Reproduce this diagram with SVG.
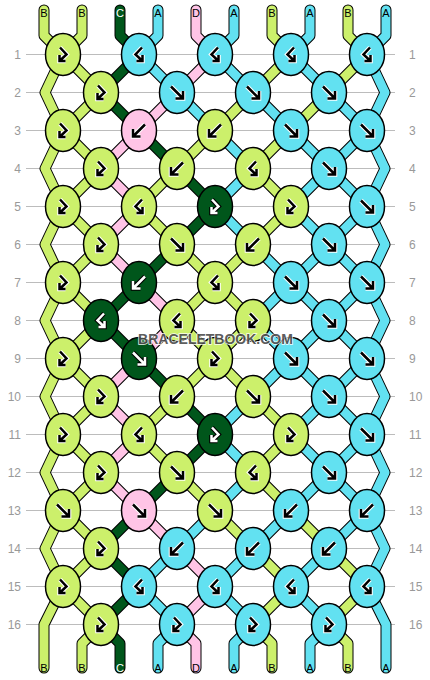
<svg xmlns="http://www.w3.org/2000/svg" xmlns:xlink="http://www.w3.org/1999/xlink" width="430" height="680" viewBox="0 0 430 680">
<style>
.bg{fill:#fff}
.rl{stroke:#bcbcbc;stroke-width:1.2}
.rn{font-family:"Liberation Sans",Arial,sans-serif;font-size:12px;fill:#999}
.ol{fill:none;stroke:#000;stroke-width:11;stroke-linejoin:round;stroke-linecap:round}
.th{fill:none;stroke-width:9;stroke-linejoin:round;stroke-linecap:round}
.tB{stroke:#ccf06b}.tC{stroke:#00561b}.tA{stroke:#62e1f1}.tD{stroke:#ffc4e6}
ellipse{stroke:#000;stroke-width:1.5}
.kB{fill:#ccf06b}.kC{fill:#00561b}.kA{fill:#62e1f1}.kD{fill:#ffc4e6}
.h{fill:none;stroke:#fff;stroke-width:4.6}
.a{fill:none;stroke:#000;stroke-width:2.5}
.h2{fill:none;stroke:#000;stroke-width:4.6}
.a2{fill:none;stroke:#fff;stroke-width:2.5}
.lb{font-family:"Liberation Sans",Arial,sans-serif;font-size:11px;fill:#000;text-anchor:middle}
.lw{fill:#fff}
.wm{font-family:"Liberation Sans",Arial,sans-serif;font-weight:bold;font-size:14px;fill:#4d4d4d;stroke:#fff;stroke-width:1.5;paint-order:stroke;text-anchor:middle;opacity:0.9}
</style>
<defs>
<path id="f" d="M-6,-6L5,5M-1.5,6H6V-1.5"/>
<path id="b" d="M6,-6L-5,5M1.5,6H-6V-1.5"/>
<path id="fb" d="M-3,-7L3.5,0L-3.5,6.5M-3.5,0.5V6.5H2.5"/>
<path id="bf" d="M3,-7L-3.5,0L3.5,6.5M3.5,0.5V6.5H-2.5"/>
</defs>
<rect class="bg" width="430" height="680"/>
<g id="rows">
<g class="rl">
<line x1="26" y1="54.5" x2="395" y2="54.5"/><line x1="26" y1="92.5" x2="395" y2="92.5"/><line x1="26" y1="130.5" x2="395" y2="130.5"/><line x1="26" y1="168.5" x2="395" y2="168.5"/><line x1="26" y1="206.5" x2="395" y2="206.5"/><line x1="26" y1="244.5" x2="395" y2="244.5"/><line x1="26" y1="282.5" x2="395" y2="282.5"/><line x1="26" y1="320.5" x2="395" y2="320.5"/><line x1="26" y1="358.5" x2="395" y2="358.5"/><line x1="26" y1="396.5" x2="395" y2="396.5"/><line x1="26" y1="434.5" x2="395" y2="434.5"/><line x1="26" y1="472.5" x2="395" y2="472.5"/><line x1="26" y1="510.5" x2="395" y2="510.5"/><line x1="26" y1="548.5" x2="395" y2="548.5"/><line x1="26" y1="586.5" x2="395" y2="586.5"/><line x1="26" y1="624.5" x2="395" y2="624.5"/>
</g>
<g class="rn" text-anchor="end">
<text x="21" y="59">1</text><text x="21" y="97">2</text><text x="21" y="135">3</text><text x="21" y="173">4</text><text x="21" y="211">5</text><text x="21" y="249">6</text><text x="21" y="287">7</text><text x="21" y="325">8</text><text x="21" y="363">9</text><text x="21" y="401">10</text><text x="21" y="439">11</text><text x="21" y="477">12</text><text x="21" y="515">13</text><text x="21" y="553">14</text><text x="21" y="591">15</text><text x="21" y="629">16</text>
</g>
<g class="rn" text-anchor="start">
<text x="409" y="59">1</text><text x="409" y="97">2</text><text x="409" y="135">3</text><text x="409" y="173">4</text><text x="409" y="211">5</text><text x="409" y="249">6</text><text x="409" y="287">7</text><text x="409" y="325">8</text><text x="409" y="363">9</text><text x="409" y="401">10</text><text x="409" y="439">11</text><text x="409" y="477">12</text><text x="409" y="515">13</text><text x="409" y="553">14</text><text x="409" y="591">15</text><text x="409" y="629">16</text>
</g>
</g>
<g id="connectors">
<defs>
<polyline id="t0" points="44,10 44,35.5 63,54.5 45,92.5 63,130.5 45,168.5 63,206.5 45,244.5 63,282.5 45,320.5 63,358.5 45,396.5 63,434.5 45,472.5 63,510.5 101,548.5 63,586.5 101,624.5 82,643.5 82,668"/>
<polyline id="t1" points="82,10 82,35.5 63,54.5 101,92.5 63,130.5 101,168.5 63,206.5 101,244.5 63,282.5 101,320.5 63,358.5 101,396.5 63,434.5 101,472.5 63,510.5 45,548.5 63,586.5 44,624.5 44,668"/>
<polyline id="t2" points="120,10 120,35.5 139,54.5 101,92.5 139,130.5 177,168.5 215,206.5 177,244.5 139,282.5 101,320.5 139,358.5 177,396.5 215,434.5 177,472.5 139,510.5 101,548.5 139,586.5 101,624.5 120,643.5 120,668"/>
<polyline id="t3" points="158,10 158,35.5 139,54.5 177,92.5 215,130.5 253,168.5 215,206.5 253,244.5 291,282.5 329,320.5 367,358.5 385,396.5 367,434.5 329,472.5 291,510.5 253,548.5 215,586.5 253,624.5 234,643.5 234,668"/>
<polyline id="t4" points="196,10 196,35.5 215,54.5 177,92.5 139,130.5 101,168.5 139,206.5 101,244.5 139,282.5 177,320.5 139,358.5 101,396.5 139,434.5 101,472.5 139,510.5 177,548.5 215,586.5 177,624.5 196,643.5 196,668"/>
<polyline id="t5" points="234,10 234,35.5 215,54.5 253,92.5 291,130.5 329,168.5 367,206.5 385,244.5 367,282.5 329,320.5 291,358.5 253,396.5 215,434.5 253,472.5 215,510.5 177,548.5 139,586.5 177,624.5 158,643.5 158,668"/>
<polyline id="t6" points="272,10 272,35.5 291,54.5 253,92.5 215,130.5 177,168.5 139,206.5 177,244.5 215,282.5 177,320.5 215,358.5 177,396.5 139,434.5 177,472.5 215,510.5 253,548.5 291,586.5 253,624.5 272,643.5 272,668"/>
<polyline id="t7" points="310,10 310,35.5 291,54.5 329,92.5 367,130.5 385,168.5 367,206.5 329,244.5 291,282.5 253,320.5 291,358.5 329,396.5 367,434.5 385,472.5 367,510.5 329,548.5 291,586.5 329,624.5 310,643.5 310,668"/>
<polyline id="t8" points="348,10 348,35.5 367,54.5 329,92.5 291,130.5 253,168.5 291,206.5 253,244.5 215,282.5 253,320.5 215,358.5 253,396.5 291,434.5 253,472.5 291,510.5 329,548.5 367,586.5 329,624.5 348,643.5 348,668"/>
<polyline id="t9" points="386,10 386,35.5 367,54.5 385,92.5 367,130.5 329,168.5 291,206.5 329,244.5 367,282.5 385,320.5 367,358.5 329,396.5 291,434.5 329,472.5 367,510.5 385,548.5 367,586.5 386,624.5 386,668"/>
</defs>
<use href="#t0" class="ol"/><use href="#t0" class="th tB"/>
<use href="#t1" class="ol"/><use href="#t1" class="th tB"/>
<use href="#t2" class="ol"/><use href="#t2" class="th tC"/>
<use href="#t3" class="ol"/><use href="#t3" class="th tA"/>
<use href="#t4" class="ol"/><use href="#t4" class="th tD"/>
<use href="#t5" class="ol"/><use href="#t5" class="th tA"/>
<use href="#t6" class="ol"/><use href="#t6" class="th tB"/>
<use href="#t7" class="ol"/><use href="#t7" class="th tA"/>
<use href="#t8" class="ol"/><use href="#t8" class="th tB"/>
<use href="#t9" class="ol"/><use href="#t9" class="th tA"/>
</g>
<g id="labels">
<text class="lb" x="44" y="16.5">B</text><text class="lb" x="82" y="16.5">B</text><text class="lb lw" x="120" y="16.5">C</text><text class="lb" x="158" y="16.5">A</text><text class="lb" x="196" y="16.5">D</text><text class="lb" x="234" y="16.5">A</text><text class="lb" x="272" y="16.5">B</text><text class="lb" x="310" y="16.5">A</text><text class="lb" x="348" y="16.5">B</text><text class="lb" x="386" y="16.5">A</text>
<text class="lb" x="44" y="672">B</text><text class="lb" x="82" y="672">B</text><text class="lb lw" x="120" y="672">C</text><text class="lb" x="158" y="672">A</text><text class="lb" x="196" y="672">D</text><text class="lb" x="234" y="672">A</text><text class="lb" x="272" y="672">B</text><text class="lb" x="310" y="672">A</text><text class="lb" x="348" y="672">B</text><text class="lb" x="386" y="672">A</text>
</g>
<g id="knots">
<g id="k1-1" transform="translate(63,54.5)"><ellipse class="kB" rx="17.5" ry="21"/><use href="#fb" class="h"/><use href="#fb" class="a"/></g>
<g id="k1-2" transform="translate(139,54.5)"><ellipse class="kA" rx="17.5" ry="21"/><use href="#bf" class="h"/><use href="#bf" class="a"/></g>
<g id="k1-3" transform="translate(215,54.5)"><ellipse class="kA" rx="17.5" ry="21"/><use href="#bf" class="h"/><use href="#bf" class="a"/></g>
<g id="k1-4" transform="translate(291,54.5)"><ellipse class="kA" rx="17.5" ry="21"/><use href="#bf" class="h"/><use href="#bf" class="a"/></g>
<g id="k1-5" transform="translate(367,54.5)"><ellipse class="kA" rx="17.5" ry="21"/><use href="#bf" class="h"/><use href="#bf" class="a"/></g>
<g id="k2-1" transform="translate(101,92.5)"><ellipse class="kB" rx="17.5" ry="21"/><use href="#fb" class="h"/><use href="#fb" class="a"/></g>
<g id="k2-2" transform="translate(177,92.5)"><ellipse class="kA" rx="17.5" ry="21"/><use href="#f" class="h"/><use href="#f" class="a"/></g>
<g id="k2-3" transform="translate(253,92.5)"><ellipse class="kA" rx="17.5" ry="21"/><use href="#f" class="h"/><use href="#f" class="a"/></g>
<g id="k2-4" transform="translate(329,92.5)"><ellipse class="kA" rx="17.5" ry="21"/><use href="#f" class="h"/><use href="#f" class="a"/></g>
<g id="k3-1" transform="translate(63,130.5)"><ellipse class="kB" rx="17.5" ry="21"/><use href="#fb" class="h"/><use href="#fb" class="a"/></g>
<g id="k3-2" transform="translate(139,130.5)"><ellipse class="kD" rx="17.5" ry="21"/><use href="#b" class="h"/><use href="#b" class="a"/></g>
<g id="k3-3" transform="translate(215,130.5)"><ellipse class="kB" rx="17.5" ry="21"/><use href="#b" class="h"/><use href="#b" class="a"/></g>
<g id="k3-4" transform="translate(291,130.5)"><ellipse class="kA" rx="17.5" ry="21"/><use href="#f" class="h"/><use href="#f" class="a"/></g>
<g id="k3-5" transform="translate(367,130.5)"><ellipse class="kA" rx="17.5" ry="21"/><use href="#f" class="h"/><use href="#f" class="a"/></g>
<g id="k4-1" transform="translate(101,168.5)"><ellipse class="kB" rx="17.5" ry="21"/><use href="#fb" class="h"/><use href="#fb" class="a"/></g>
<g id="k4-2" transform="translate(177,168.5)"><ellipse class="kB" rx="17.5" ry="21"/><use href="#b" class="h"/><use href="#b" class="a"/></g>
<g id="k4-3" transform="translate(253,168.5)"><ellipse class="kB" rx="17.5" ry="21"/><use href="#bf" class="h"/><use href="#bf" class="a"/></g>
<g id="k4-4" transform="translate(329,168.5)"><ellipse class="kA" rx="17.5" ry="21"/><use href="#f" class="h"/><use href="#f" class="a"/></g>
<g id="k5-1" transform="translate(63,206.5)"><ellipse class="kB" rx="17.5" ry="21"/><use href="#fb" class="h"/><use href="#fb" class="a"/></g>
<g id="k5-2" transform="translate(139,206.5)"><ellipse class="kB" rx="17.5" ry="21"/><use href="#bf" class="h"/><use href="#bf" class="a"/></g>
<g id="k5-3" transform="translate(215,206.5)"><ellipse class="kC" rx="17.5" ry="21"/><use href="#fb" class="h2"/><use href="#fb" class="a2"/></g>
<g id="k5-4" transform="translate(291,206.5)"><ellipse class="kB" rx="17.5" ry="21"/><use href="#fb" class="h"/><use href="#fb" class="a"/></g>
<g id="k5-5" transform="translate(367,206.5)"><ellipse class="kA" rx="17.5" ry="21"/><use href="#f" class="h"/><use href="#f" class="a"/></g>
<g id="k6-1" transform="translate(101,244.5)"><ellipse class="kB" rx="17.5" ry="21"/><use href="#fb" class="h"/><use href="#fb" class="a"/></g>
<g id="k6-2" transform="translate(177,244.5)"><ellipse class="kB" rx="17.5" ry="21"/><use href="#f" class="h"/><use href="#f" class="a"/></g>
<g id="k6-3" transform="translate(253,244.5)"><ellipse class="kB" rx="17.5" ry="21"/><use href="#b" class="h"/><use href="#b" class="a"/></g>
<g id="k6-4" transform="translate(329,244.5)"><ellipse class="kA" rx="17.5" ry="21"/><use href="#f" class="h"/><use href="#f" class="a"/></g>
<g id="k7-1" transform="translate(63,282.5)"><ellipse class="kB" rx="17.5" ry="21"/><use href="#fb" class="h"/><use href="#fb" class="a"/></g>
<g id="k7-2" transform="translate(139,282.5)"><ellipse class="kC" rx="17.5" ry="21"/><use href="#b" class="h2"/><use href="#b" class="a2"/></g>
<g id="k7-3" transform="translate(215,282.5)"><ellipse class="kB" rx="17.5" ry="21"/><use href="#bf" class="h"/><use href="#bf" class="a"/></g>
<g id="k7-4" transform="translate(291,282.5)"><ellipse class="kA" rx="17.5" ry="21"/><use href="#f" class="h"/><use href="#f" class="a"/></g>
<g id="k7-5" transform="translate(367,282.5)"><ellipse class="kA" rx="17.5" ry="21"/><use href="#f" class="h"/><use href="#f" class="a"/></g>
<g id="k8-1" transform="translate(101,320.5)"><ellipse class="kC" rx="17.5" ry="21"/><use href="#bf" class="h2"/><use href="#bf" class="a2"/></g>
<g id="k8-2" transform="translate(177,320.5)"><ellipse class="kB" rx="17.5" ry="21"/><use href="#bf" class="h"/><use href="#bf" class="a"/></g>
<g id="k8-3" transform="translate(253,320.5)"><ellipse class="kB" rx="17.5" ry="21"/><use href="#fb" class="h"/><use href="#fb" class="a"/></g>
<g id="k8-4" transform="translate(329,320.5)"><ellipse class="kA" rx="17.5" ry="21"/><use href="#f" class="h"/><use href="#f" class="a"/></g>
<g id="k9-1" transform="translate(63,358.5)"><ellipse class="kB" rx="17.5" ry="21"/><use href="#fb" class="h"/><use href="#fb" class="a"/></g>
<g id="k9-2" transform="translate(139,358.5)"><ellipse class="kC" rx="17.5" ry="21"/><use href="#f" class="h2"/><use href="#f" class="a2"/></g>
<g id="k9-3" transform="translate(215,358.5)"><ellipse class="kB" rx="17.5" ry="21"/><use href="#fb" class="h"/><use href="#fb" class="a"/></g>
<g id="k9-4" transform="translate(291,358.5)"><ellipse class="kA" rx="17.5" ry="21"/><use href="#f" class="h"/><use href="#f" class="a"/></g>
<g id="k9-5" transform="translate(367,358.5)"><ellipse class="kA" rx="17.5" ry="21"/><use href="#f" class="h"/><use href="#f" class="a"/></g>
<g id="k10-1" transform="translate(101,396.5)"><ellipse class="kB" rx="17.5" ry="21"/><use href="#fb" class="h"/><use href="#fb" class="a"/></g>
<g id="k10-2" transform="translate(177,396.5)"><ellipse class="kB" rx="17.5" ry="21"/><use href="#b" class="h"/><use href="#b" class="a"/></g>
<g id="k10-3" transform="translate(253,396.5)"><ellipse class="kB" rx="17.5" ry="21"/><use href="#f" class="h"/><use href="#f" class="a"/></g>
<g id="k10-4" transform="translate(329,396.5)"><ellipse class="kA" rx="17.5" ry="21"/><use href="#f" class="h"/><use href="#f" class="a"/></g>
<g id="k11-1" transform="translate(63,434.5)"><ellipse class="kB" rx="17.5" ry="21"/><use href="#fb" class="h"/><use href="#fb" class="a"/></g>
<g id="k11-2" transform="translate(139,434.5)"><ellipse class="kB" rx="17.5" ry="21"/><use href="#bf" class="h"/><use href="#bf" class="a"/></g>
<g id="k11-3" transform="translate(215,434.5)"><ellipse class="kC" rx="17.5" ry="21"/><use href="#fb" class="h2"/><use href="#fb" class="a2"/></g>
<g id="k11-4" transform="translate(291,434.5)"><ellipse class="kB" rx="17.5" ry="21"/><use href="#fb" class="h"/><use href="#fb" class="a"/></g>
<g id="k11-5" transform="translate(367,434.5)"><ellipse class="kA" rx="17.5" ry="21"/><use href="#f" class="h"/><use href="#f" class="a"/></g>
<g id="k12-1" transform="translate(101,472.5)"><ellipse class="kB" rx="17.5" ry="21"/><use href="#fb" class="h"/><use href="#fb" class="a"/></g>
<g id="k12-2" transform="translate(177,472.5)"><ellipse class="kB" rx="17.5" ry="21"/><use href="#f" class="h"/><use href="#f" class="a"/></g>
<g id="k12-3" transform="translate(253,472.5)"><ellipse class="kB" rx="17.5" ry="21"/><use href="#bf" class="h"/><use href="#bf" class="a"/></g>
<g id="k12-4" transform="translate(329,472.5)"><ellipse class="kA" rx="17.5" ry="21"/><use href="#f" class="h"/><use href="#f" class="a"/></g>
<g id="k13-1" transform="translate(63,510.5)"><ellipse class="kB" rx="17.5" ry="21"/><use href="#f" class="h"/><use href="#f" class="a"/></g>
<g id="k13-2" transform="translate(139,510.5)"><ellipse class="kD" rx="17.5" ry="21"/><use href="#f" class="h"/><use href="#f" class="a"/></g>
<g id="k13-3" transform="translate(215,510.5)"><ellipse class="kB" rx="17.5" ry="21"/><use href="#f" class="h"/><use href="#f" class="a"/></g>
<g id="k13-4" transform="translate(291,510.5)"><ellipse class="kA" rx="17.5" ry="21"/><use href="#b" class="h"/><use href="#b" class="a"/></g>
<g id="k13-5" transform="translate(367,510.5)"><ellipse class="kA" rx="17.5" ry="21"/><use href="#b" class="h"/><use href="#b" class="a"/></g>
<g id="k14-1" transform="translate(101,548.5)"><ellipse class="kB" rx="17.5" ry="21"/><use href="#fb" class="h"/><use href="#fb" class="a"/></g>
<g id="k14-2" transform="translate(177,548.5)"><ellipse class="kA" rx="17.5" ry="21"/><use href="#b" class="h"/><use href="#b" class="a"/></g>
<g id="k14-3" transform="translate(253,548.5)"><ellipse class="kA" rx="17.5" ry="21"/><use href="#b" class="h"/><use href="#b" class="a"/></g>
<g id="k14-4" transform="translate(329,548.5)"><ellipse class="kA" rx="17.5" ry="21"/><use href="#b" class="h"/><use href="#b" class="a"/></g>
<g id="k15-1" transform="translate(63,586.5)"><ellipse class="kB" rx="17.5" ry="21"/><use href="#fb" class="h"/><use href="#fb" class="a"/></g>
<g id="k15-2" transform="translate(139,586.5)"><ellipse class="kA" rx="17.5" ry="21"/><use href="#bf" class="h"/><use href="#bf" class="a"/></g>
<g id="k15-3" transform="translate(215,586.5)"><ellipse class="kA" rx="17.5" ry="21"/><use href="#bf" class="h"/><use href="#bf" class="a"/></g>
<g id="k15-4" transform="translate(291,586.5)"><ellipse class="kA" rx="17.5" ry="21"/><use href="#bf" class="h"/><use href="#bf" class="a"/></g>
<g id="k15-5" transform="translate(367,586.5)"><ellipse class="kA" rx="17.5" ry="21"/><use href="#bf" class="h"/><use href="#bf" class="a"/></g>
<g id="k16-1" transform="translate(101,624.5)"><ellipse class="kB" rx="17.5" ry="21"/><use href="#fb" class="h"/><use href="#fb" class="a"/></g>
<g id="k16-2" transform="translate(177,624.5)"><ellipse class="kA" rx="17.5" ry="21"/><use href="#fb" class="h"/><use href="#fb" class="a"/></g>
<g id="k16-3" transform="translate(253,624.5)"><ellipse class="kA" rx="17.5" ry="21"/><use href="#fb" class="h"/><use href="#fb" class="a"/></g>
<g id="k16-4" transform="translate(329,624.5)"><ellipse class="kA" rx="17.5" ry="21"/><use href="#fb" class="h"/><use href="#fb" class="a"/></g>
</g>
<text class="wm" x="215.5" y="344">BRACELETBOOK.COM</text>
</svg>
